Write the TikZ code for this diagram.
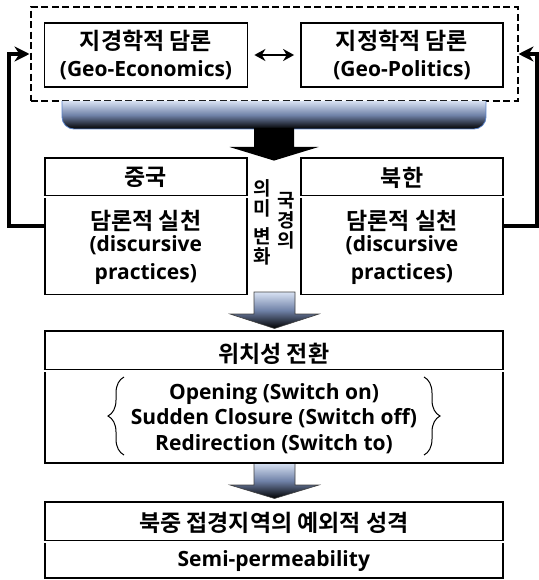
\documentclass[tikz,border=0pt]{standalone}
\usepackage{fontspec}
\setmainfont{Open Sans}
\newfontfamily\kr{Noto Sans CJK KR Bold}
\usetikzlibrary{arrows.meta,decorations.pathreplacing,positioning}
\definecolor{paleblue}{RGB}{216,226,243}
\definecolor{steelblue}{RGB}{112,130,168}
\definecolor{rimblue}{RGB}{90,130,200}

\begin{document}
\begin{tikzpicture}[
    x=1pt, y=-1pt,
    box/.style={draw, line width=1.8pt, inner sep=0pt},
    frame/.style={draw, line width=2pt, dash pattern=on 7pt off 3.5pt, inner sep=0pt},
    kor/.style={font=\kr\fontsize{23}{26}\selectfont},
    lat/.style={font=\bfseries\fontsize{21}{28}\selectfont, align=center},
    vert/.style={font=\kr\fontsize{19}{20}\selectfont, align=center},
    divider/.style={double, double distance=2pt, line width=0.8pt},
    fb/.style={line width=3.5pt, -{Stealth[length=15pt, width=15pt]}},
    dbl/.style={line width=2.5pt, {Stealth[length=11pt, width=12pt]}-{Stealth[length=11pt, width=12pt]}, shorten >=6pt, shorten <=6pt},
    blockarrow/.style={draw=black!75, line width=0.6pt, top color=paleblue, bottom color=black, middle color=steelblue},
    curly/.style={decorate, decoration={brace, amplitude=16pt}, line width=1pt}
  ]
  \useasboundingbox (0,0) rectangle (538,580);

  % Discourse level (dashed frame)
  \node[frame, minimum width=487pt, minimum height=93.5pt] (frame) at (274,54) {};
  \node[box, minimum width=203pt, minimum height=64.5pt] (geoE) at (146,55) {};
  \node[box, minimum width=202pt, minimum height=64.5pt] (geoP) at (402,55) {};
  \node[kor] (geoEk) at (146,41) {지경학적 담론};
  \node[lat] (geoEl) at (146,70) {(Geo-Economics)};
  \node[kor] (geoPk) at (402,41) {지정학적 담론};
  \node[lat] (geoPl) at (402,70) {(Geo-Politics)};
  \draw[dbl] (geoE) -- (geoP);

  % Tray and first block arrow
  \shade[top color=paleblue, bottom color=black, middle color=steelblue, rounded corners=12pt]
    (62,101) -- (62,129) -- (486,129) -- (486,101);
  \draw[rimblue, line width=0.8pt, rounded corners=12pt] (62,101) -- (62,129) -- (486,129) -- (486,101);
  \fill (254,128) -- (254,147) -- (229.5,147) -- (274,160.6) -- (318.5,147) -- (294,147) -- (294,128) -- cycle;

  % Discursive practices
  \node[box, minimum width=202.4pt, minimum height=136.4pt] (cn) at (145.8,226.2) {};
  \node[box, minimum width=202pt, minimum height=136.4pt] (nk) at (402,226.2) {};
  \coordinate (divA) at (0,196.6);
  \draw[divider] (cn.west |- divA) -- (cn.east |- divA);
  \draw[divider] (nk.west |- divA) -- (nk.east |- divA);
  \node[kor] (cnT) at (145.8,177.7) {중국};
  \node[kor] (nkT) at (402,177.7) {북한};
  \node[kor] (cnK) at (145.8,220.6) {담론적 실천};
  \node[kor] (nkK) at (402,220.6) {담론적 실천};
  \node[lat] (cnL) at (145.8,260) {(discursive\\practices)};
  \node[lat] (nkL) at (402,260) {(discursive\\practices)};

  % Vertical label between boxes
  \node[vert] (vR) at (286.5,221) {국\\경\\의};
  \node[vert] (vL) at (262,222.5) {의\\미\\[8pt]변\\화};

  % Feedback to the discourse level
  \draw[fb] (cn.west) -- ++(-34.6,0) |- (frame.west);
  \draw[fb] (nk.east) -- ++(33,0) |- (frame.east);

  % Block arrows
  \foreach \ya/\yb/\yc in {292/314/328.5, 463/485/498.5}
    \shade[blockarrow] (254,\ya) -- (254,\yb) -- (230,\yb) -- (274.5,\yc) -- (319,\yb) -- (295,\yb) -- (295,\ya) -- cycle;

  % Positionality switch
  \node[box, minimum width=458.4pt, minimum height=131.6pt] (pos) at (273.8,396.8) {};
  \coordinate (divB) at (0,370.6);
  \draw[divider] (pos.west |- divB) -- (pos.east |- divB);
  \node[kor] (posT) at (273.8,353.5) {위치성 전환};
  \node[lat, font=\bfseries\fontsize{21}{25.5}\selectfont] (posL) at (274,418.5)
    {Opening (Switch on)\\Sudden Closure (Switch off)\\Redirection (Switch to)};
  \draw[curly] (124,455) -- (124,377);
  \draw[curly] (424,377) -- (424,455);

  % Exceptional character
  \node[box, minimum width=458.4pt, minimum height=76pt] (exc) at (273.8,540) {};
  \coordinate (divC) at (0,541.5);
  \draw[divider] (exc.west |- divC) -- (exc.east |- divC);
  \node[kor] (excT) at (273.8,522.7) {북중 접경지역의 예외적 성격};
  \node[lat] (excL) at (273.8,561) {Semi-permeability};
\end{tikzpicture}
\end{document}
